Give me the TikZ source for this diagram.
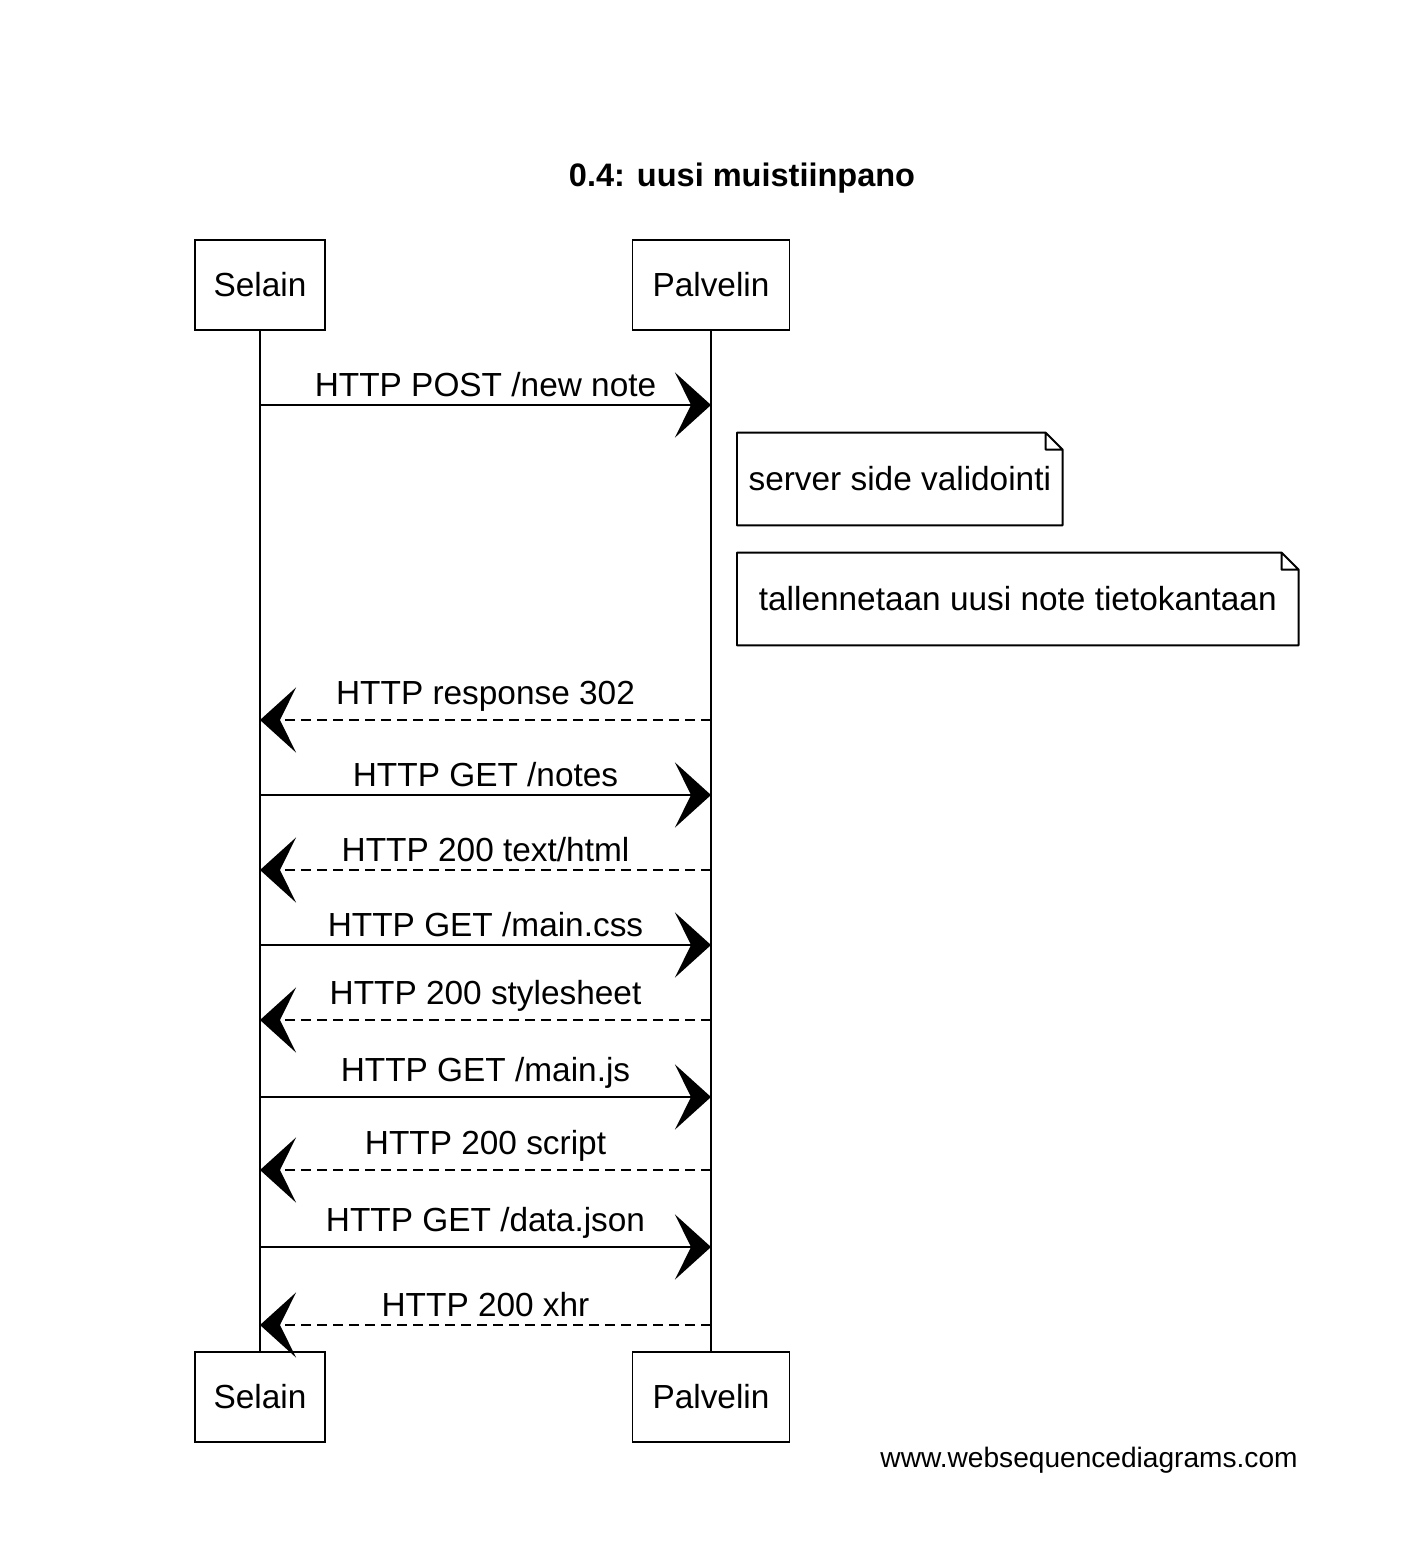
\documentclass[tikz,border=0pt]{standalone}
\usepackage{fontspec}
\setmainfont{Liberation Sans}
\usetikzlibrary{arrows.meta,positioning}
\tikzset{
  actor/.style={draw,line width=1.1pt,minimum height=1.8cm,align=center,font=\fontsize{19}{23}\selectfont},
  lifeline/.style={draw,line width=.8pt},
  msg/.style={-{Stealth[length=.72cm,width=1.3cm,inset=.32cm]},line width=1.3pt},
  reply/.style={msg,dash pattern=on .2cm off .12cm},
  lbl/.style={above,inner sep=.14cm,font=\fontsize{19}{23}\selectfont},
  note/.style={anchor=west,minimum height=1.84cm,align=center,font=\fontsize{19}{23}\selectfont},
  noteline/.style={draw,line width=1.1pt,line join=round}
}
\begin{document}
\begin{tikzpicture}[x=.02cm,y=-.02cm]
  \useasboundingbox (0,0) rectangle (1402,1550);
  \node[font=\bfseries\fontsize{18.5}{22}\selectfont] (title) at (742,178) {0.4: uusi muistiinpano};
  % participants
  \node[actor,minimum width=2.6cm] (selainTop) at (260,285) {Selain};
  \node[actor,minimum width=3.14cm] (palvelinTop) at (711,285) {Palvelin};
  \node[actor,minimum width=2.6cm] (selainBot) at (260,1397) {Selain};
  \node[actor,minimum width=3.14cm] (palvelinBot) at (711,1397) {Palvelin};
  \draw[lifeline] (selainTop) -- (selainBot);
  \draw[lifeline] (palvelinTop) -- (palvelinBot);
  % message ends on the lifelines
  \coordinate (s1) at (selainTop |- 0,405);   \coordinate (p1) at (palvelinTop |- 0,405);
  \coordinate (s2) at (selainTop |- 0,720);   \coordinate (p2) at (palvelinTop |- 0,720);
  \coordinate (s3) at (selainTop |- 0,795);   \coordinate (p3) at (palvelinTop |- 0,795);
  \coordinate (s4) at (selainTop |- 0,870);   \coordinate (p4) at (palvelinTop |- 0,870);
  \coordinate (s5) at (selainTop |- 0,945);   \coordinate (p5) at (palvelinTop |- 0,945);
  \coordinate (s6) at (selainTop |- 0,1020);  \coordinate (p6) at (palvelinTop |- 0,1020);
  \coordinate (s7) at (selainTop |- 0,1097);  \coordinate (p7) at (palvelinTop |- 0,1097);
  \coordinate (s8) at (selainTop |- 0,1170);  \coordinate (p8) at (palvelinTop |- 0,1170);
  \coordinate (s9) at (selainTop |- 0,1247);  \coordinate (p9) at (palvelinTop |- 0,1247);
  \coordinate (s10) at (selainTop |- 0,1325); \coordinate (p10) at (palvelinTop |- 0,1325);
  \draw[msg] (s1) -- node[lbl] {HTTP POST /new note} (p1);
  % notes on the server side
  \node[note,minimum width=6.5cm] (noteA) at (737,479) {server side validointi};
  \node[note,minimum width=11.22cm] (noteB) at (737,599) {tallennetaan uusi note tietokantaan};
  \foreach \n in {noteA,noteB}
    \draw[noteline] (\n.south west) -- (\n.north west) -- ([xshift=-.34cm]\n.north east)
      -- ([yshift=-.34cm]\n.north east) -- (\n.south east) -- cycle
      ([xshift=-.34cm]\n.north east) |- ([yshift=-.34cm]\n.north east);
  \draw[reply] (p2) -- node[lbl] {HTTP response 302} (s2);
  \draw[msg] (s3) -- node[lbl] {HTTP GET /notes} (p3);
  \draw[reply] (p4) -- node[lbl] {HTTP 200 text/html} (s4);
  \draw[msg] (s5) -- node[lbl] {HTTP GET /main.css} (p5);
  \draw[reply] (p6) -- node[lbl] {HTTP 200 stylesheet} (s6);
  \draw[msg] (s7) -- node[lbl] {HTTP GET /main.js} (p7);
  \draw[reply] (p8) -- node[lbl] {HTTP 200 script} (s8);
  \draw[msg] (s9) -- node[lbl] {HTTP GET /data.json} (p9);
  \draw[reply] (p10) -- node[lbl] {HTTP 200 xhr} (s10);
  \node[anchor=east,inner sep=0pt,font=\fontsize{16}{19}\selectfont] (credit) at (1298,1460) {www.websequencediagrams.com};
\end{tikzpicture}
\end{document}
